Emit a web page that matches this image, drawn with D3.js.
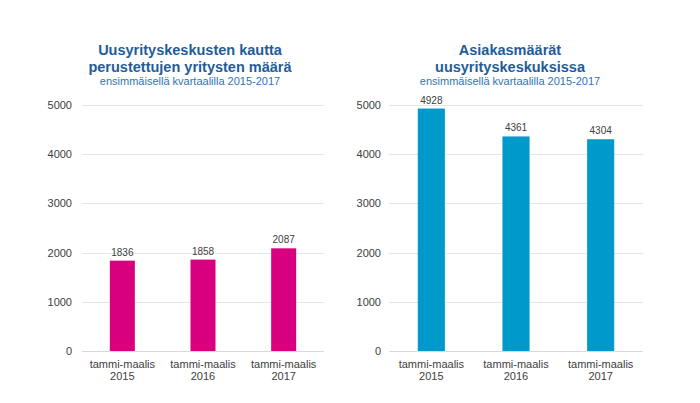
<!DOCTYPE html>
<html>
<head>
<meta charset="utf-8">
<script src="https://cdn.jsdelivr.net/npm/d3@7"></script>
<style>
  body { margin: 0; background: #fff; }
  svg { font-family: "Liberation Sans", Arial, sans-serif; }
</style>
</head>
<body>
<svg id="chart" width="700" height="403"></svg>
<script>
// Data
const categories = ['tammi-maalis\n2015', 'tammi-maalis\n2016', 'tammi-maalis\n2017'];
const yTicks = [0, 1000, 2000, 3000, 4000, 5000];

const founded = [1836, 1858, 2087];
const customers = [4928, 4361, 4304];

const titleLeft = ['Uusyrityskeskusten kautta', 'perustettujen yritysten määrä'];
const titleRight = ['Asiakasmäärät', 'uusyrityskeskuksissa'];
const subtitle = 'ensimmäisellä kvartaalilla 2015-2017';

const svg = d3.select('#chart');

function drawChart(cfg) {
    const g = svg.append('g');

    const x = d3.scaleBand()
        .domain(categories)
        .range([cfg.left, cfg.right])
        .paddingInner(cfg.pad)
        .paddingOuter(cfg.pad / 2);

    const y = d3.scaleLinear()
        .domain([0, 5000])
        .range([351, 105]);

    // gridlines
    g.selectAll('.grid')
        .data(yTicks)
        .join('line')
            .attr('x1', cfg.left)
            .attr('x2', cfg.right)
            .attr('y1', d => Math.round(y(d)) + 0.5)
            .attr('y2', d => Math.round(y(d)) + 0.5)
            .attr('stroke', d => d === 0 ? '#d9d9d9' : '#e6e6e6')
            .attr('stroke-width', 1);

    // y axis labels
    const yAxis = d3.axisLeft(y).tickValues(yTicks).tickFormat(d3.format('d'))
        .tickSize(0).tickPadding(0);
    g.append('g')
        .attr('transform', `translate(${cfg.labelX},0)`)
        .call(yAxis)
        .call(a => a.select('.domain').remove())
        .call(a => a.selectAll('text')
            .attr('font-size', 11)
            .attr('fill', '#404040')
            .attr('font-family', '"Liberation Sans", Arial, sans-serif'));

    // bars
    g.selectAll('.bar')
        .data(cfg.values)
        .join('rect')
            .attr('x', (d, i) => x(categories[i]))
            .attr('y', d => y(d))
            .attr('width', x.bandwidth())
            .attr('height', d => y(0) - y(d))
            .attr('fill', cfg.color);

    // value labels
    g.selectAll('.val')
        .data(cfg.values)
        .join('text')
            .attr('x', (d, i) => x(categories[i]) + x.bandwidth() / 2)
            .attr('y', d => y(d) - 5)
            .attr('text-anchor', 'middle')
            .attr('font-size', 10)
            .attr('fill', '#404040')
            .text(d => d);

    // category labels
    const cat = g.selectAll('.cat')
        .data(categories)
        .join('text')
            .attr('x', d => x(d) + x.bandwidth() / 2)
            .attr('y', 368)
            .attr('text-anchor', 'middle')
            .attr('font-size', 11)
            .attr('fill', '#404040');
    cat.selectAll('tspan')
        .data(d => d.split('\n').map(t => ({ t, x: x(d) + x.bandwidth() / 2 })))
        .join('tspan')
            .attr('x', d => d.x)
            .attr('dy', (d, i) => i === 0 ? 0 : 12)
            .text(d => d.t);

    // titles
    g.selectAll('.title')
        .data(cfg.title)
        .join('text')
            .attr('x', cfg.titleX)
            .attr('y', (d, i) => 55 + i * 17)
            .attr('text-anchor', 'middle')
            .attr('font-size', 14.5)
            .attr('font-weight', 'bold')
            .attr('fill', '#1f5c99')
            .text(d => d);

    g.append('text')
        .attr('x', cfg.titleX)
        .attr('y', 85)
        .attr('text-anchor', 'middle')
        .attr('font-size', 11)
        .attr('fill', '#2e75b6')
        .text(subtitle);
}

drawChart({ left: 82, right: 324, pad: 0.69, labelX: 72, values: founded,
            color: '#d8007f', title: titleLeft, titleX: 190 });
drawChart({ left: 389, right: 643, pad: 0.68, labelX: 381, values: customers,
            color: '#0099cc', title: titleRight, titleX: 510 });
</script>
</body>
</html>
